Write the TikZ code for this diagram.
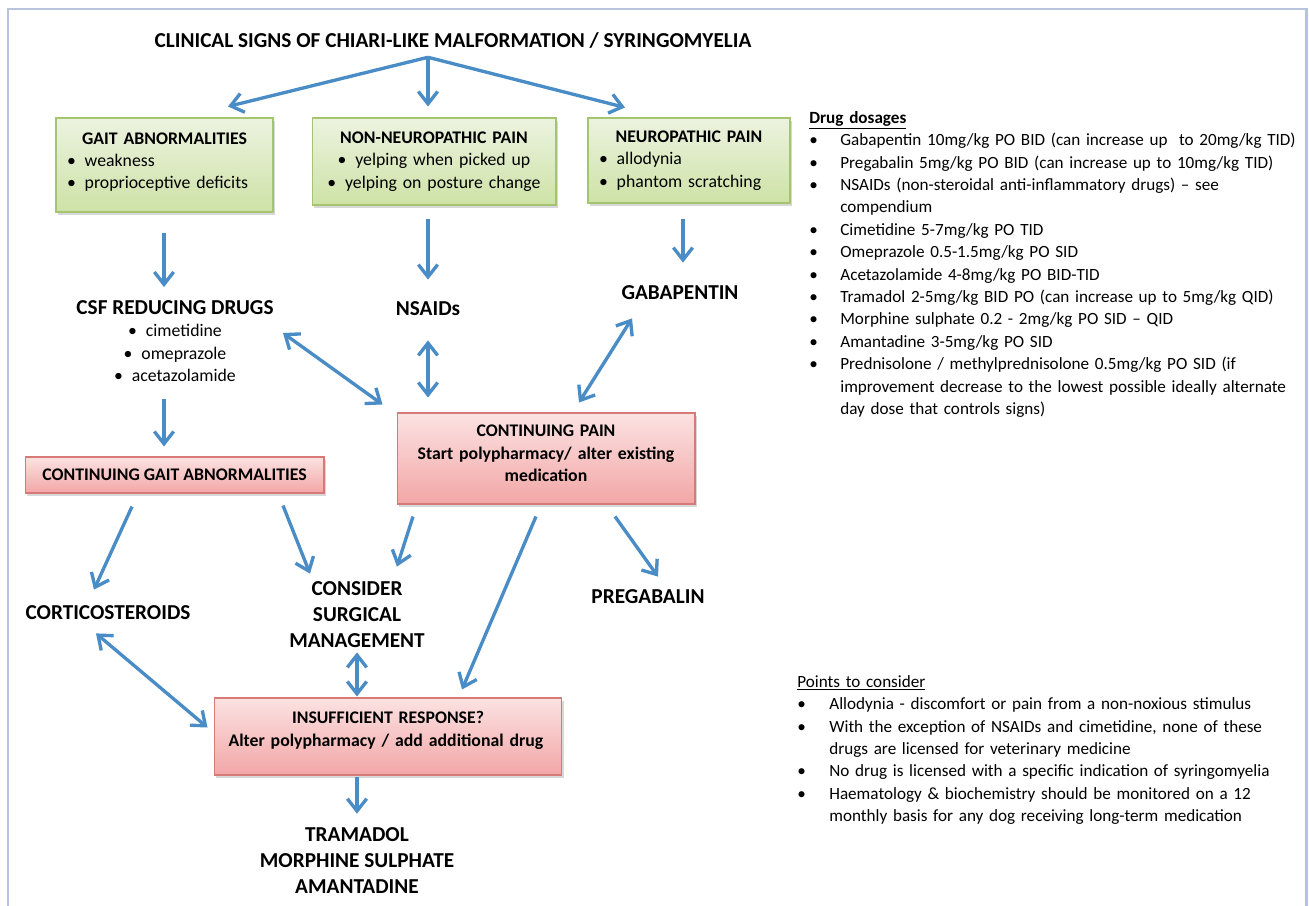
\documentclass[tikz,border=0pt]{standalone}
\usepackage{fontspec}
\setmainfont{Carlito}
\usetikzlibrary{arrows.meta,shadows}

\definecolor{arrowblue}{RGB}{74,140,198}
\definecolor{framecol}{RGB}{184,194,222}
\definecolor{greentop}{RGB}{236,243,224}
\definecolor{greenbot}{RGB}{206,226,166}
\definecolor{greenline}{RGB}{165,196,112}
\definecolor{redtop}{RGB}{252,226,226}
\definecolor{redbot}{RGB}{242,166,166}
\definecolor{redline}{RGB}{214,122,120}

\newcommand{\bodyfs}{\fontsize{10.1}{12.75}\selectfont}
\newcommand{\notefs}{\fontsize{9.75}{12.75}\selectfont}
\newcommand{\bigfs}{\fontsize{12.1}{14.8}\selectfont}
\newlength{\itind}
\newcommand{\itm}[1]{\hangindent=\itind\hangafter=1\noindent\makebox[\itind][l]{\textbullet}#1\par}
% extra room under the text of a box
\newcommand{\boxpad}[1]{\par\vskip#1\hrule height0pt}

\tikzset{
  arr/.style={draw=arrowblue, line width=1.9pt, -{Straight Barb[length=7pt,width=11pt]}},
  darr/.style={arr, {Straight Barb[length=7pt,width=11pt]}-{Straight Barb[length=7pt,width=11pt]}},
  signbox/.style={draw=greenline, line width=0.6pt, top color=greentop, bottom color=greenbot,
    drop shadow={shadow xshift=1pt, shadow yshift=-1.5pt, opacity=0.3},
    font=\bodyfs, inner xsep=0.22cm, inner ysep=0pt},
  warnbox/.style={signbox, draw=redline, top color=redtop, bottom color=redbot},
  drug/.style={font=\bigfs\bfseries, inner sep=0pt, align=center},
  note/.style={font=\notefs, inner sep=0pt, anchor=north west, text width=10.2cm, align=left},
  framestyle/.style={draw=framecol, line width=1.7pt}
}

\begin{document}
\begin{tikzpicture}[x=0.02cm,y=-0.02cm]
\useasboundingbox[fill=white] (0,0) rectangle (1309,906);
\draw[framestyle] (8,906) -- (8,9) -- (1306,9) -- (1306,906);

% clinical signs
\node[drug] (title) at (453,41) {CLINICAL SIGNS OF CHIARI-LIKE MALFORMATION / SYRINGOMYELIA};
\node[signbox, minimum width=4.34cm, minimum height=1.88cm, text width=3.90cm, align=left] (gait) at (164.5,165)
  {{\centering\bfseries GAIT ABNORMALITIES\par}\textbullet\enspace weakness\\ \textbullet\enspace proprioceptive deficits\boxpad{3.4pt}};
\node[signbox, minimum width=4.88cm, minimum height=1.74cm, text width=4.44cm, align=center] (nonneuro) at (434,161.5)
  {\textbf{NON-NEUROPATHIC PAIN}\\ \textbullet\enspace yelping when picked up\\ \textbullet\enspace yelping on posture change};
\node[signbox, minimum width=4.04cm, minimum height=1.70cm, text width=3.60cm, align=left] (neuro) at (689,160.5)
  {{\centering\bfseries NEUROPATHIC PAIN\par}\textbullet\enspace allodynia\\ \textbullet\enspace phantom scratching};

% first line drugs
\node[drug, font=\bodyfs] (csf) at (175,341)
  {{\bigfs\bfseries CSF REDUCING DRUGS}\\ \textbullet\enspace cimetidine\\ \textbullet\enspace omeprazole\\ \textbullet\enspace acetazolamide};
\node[drug] (nsaids) at (428,309) {NSAIDs};
\node[drug] (gaba) at (680,293) {GABAPENTIN};

% continuing signs
\node[warnbox, minimum width=5.98cm, minimum height=0.72cm, align=center] (contgait) at (174.5,475)
  {\textbf{CONTINUING GAIT ABNORMALITIES}};
\node[warnbox, minimum width=5.96cm, minimum height=1.82cm, text width=5.52cm, align=center] (pain) at (546,458.5)
  {\textbf{CONTINUING PAIN}\\ \textbf{Start polypharmacy/ alter existing}\\ \textbf{medication}\boxpad{5.7pt}};

\node[drug] (cortico) at (108,613) {CORTICOSTEROIDS};
\node[drug] (consider) at (357,615) {CONSIDER\\ SURGICAL\\ MANAGEMENT};
\node[drug] (pregab) at (648,597) {PREGABALIN};

\node[warnbox, minimum width=6.96cm, minimum height=1.54cm, text width=6.52cm, align=left] (insuff) at (388,736.5)
  {{\centering\bfseries INSUFFICIENT RESPONSE?\par}\hspace*{2pt}\textbf{Alter polypharmacy / add additional drug}\boxpad{6.8pt}};
\node[drug] (adddrugs) at (357,861) {TRAMADOL\\ MORPHINE SULPHATE\\ AMANTADINE};

% notes on the right
\node[note] (dosages) at (809,111) {\setlength{\itind}{0.62cm}%
  {\bfseries\underline{Drug dosages}\par}
  \itm{Gabapentin 10mg/kg PO BID (can increase up\ \ to 20mg/kg TID)}
  \itm{Pregabalin 5mg/kg PO BID (can increase up to 10mg/kg TID)}
  \itm{NSAIDs (non-steroidal anti-inflammatory drugs) – see\newline compendium}
  \itm{Cimetidine 5-7mg/kg PO TID}
  \itm{Omeprazole 0.5-1.5mg/kg PO SID}
  \itm{Acetazolamide 4-8mg/kg PO BID-TID}
  \itm{Tramadol 2-5mg/kg BID PO (can increase up to 5mg/kg QID)}
  \itm{Morphine sulphate 0.2 - 2mg/kg PO SID – QID}
  \itm{Amantadine 3-5mg/kg PO SID}
  \itm{Prednisolone / methylprednisolone 0.5mg/kg PO SID (if\newline improvement decrease to the lowest possible ideally alternate\newline day dose that controls signs)}};
\node[note] (points) at (797,675) {\setlength{\itind}{0.64cm}%
  \underline{Points to consider}\par
  \itm{Allodynia - discomfort or pain from a non-noxious stimulus}
  \itm{With the exception of NSAIDs and cimetidine, none of these\newline drugs are licensed for veterinary medicine}
  \itm{No drug is licensed with a specific indication of syringomyelia}
  \itm{Haematology \& biochemistry should be monitored on a 12\newline monthly basis for any dog receiving long-term medication}};

% arrows
\draw[arr] ([shift={(-25,8)}]title.south) -- ([shift={(63.5,-11)}]gait.north);
\draw[arr] ([shift={(-25,8)}]title.south) -- ([shift={(-6,-11)}]nonneuro.north);
\draw[arr] ([shift={(-25,8)}]title.south) -- ([shift={(-64,-10)}]neuro.north);
\draw[arr] ([shift={(-0.5,20)}]gait.south) -- ([shift={(-11,-13)}]csf.north);
\draw[arr] ([shift={(-6,13)}]nonneuro.south) -- ([shift={(0,-22)}]nsaids.north);
\draw[arr] ([shift={(-6,15)}]neuro.south) -- ([shift={(3,-23)}]gaba.north);
\draw[darr] ([shift={(108,33)}]csf.north) -- ([shift={(-14,-8)}]pain.north west);
\draw[darr] ([shift={(0,24)}]nsaids.south) -- ([shift={(-118,-15)}]pain.north);
\draw[darr] ([shift={(-48,18)}]gaba.south) -- ([shift={(33,-10)}]pain.north);
\draw[arr] ([shift={(-11,17)}]csf.south) -- ([shift={(-10.5,-10)}]contgait.north);
\draw[arr] ([shift={(-42.5,13)}]contgait.south) -- ([shift={(-14,-16)}]cortico.north);
\draw[arr] ([shift={(108.5,12)}]contgait.south) -- ([shift={(-47,-8)}]consider.north);
\draw[arr] ([shift={(-133,12)}]pain.south) -- ([shift={(40,-15)}]consider.north);
\draw[arr] ([shift={(-10,12)}]pain.south) -- ([shift={(74,-8)}]insuff.north);
\draw[arr] ([shift={(69,12)}]pain.south) -- ([shift={(10,-13)}]pregab.north);
\draw[darr] ([shift={(-12,13)}]cortico.south) -- ([shift={(-6,-9)}]insuff.west);
\draw[darr] ([shift={(0,4)}]consider.south) -- ([shift={(-31,-1)}]insuff.north);
\draw[arr] ([shift={(-31,1)}]insuff.south) -- ([shift={(0,-14)}]adddrugs.north);
\end{tikzpicture}
\end{document}
